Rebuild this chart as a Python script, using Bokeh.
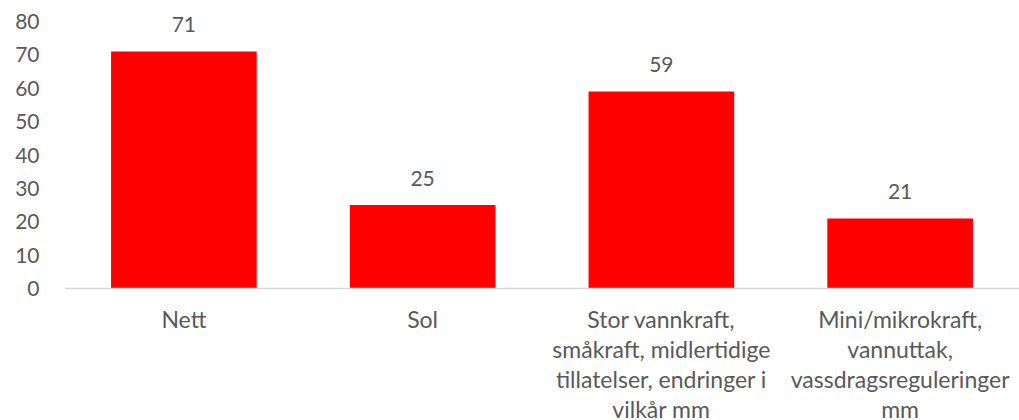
from bokeh.plotting import figure
from bokeh.models import ColumnDataSource, LabelSet, FactorRange, FixedTicker, Range1d, Span
from bokeh.core.properties import value
from bokeh.embed import file_html
from bokeh.resources import INLINE

categories = ["Nett", "Sol",
              "Stor vannkraft,\nsmåkraft, midlertidige\ntillatelser, endringer i\nvilkår mm",
              "Mini/mikrokraft,\nvannuttak,\nvassdragsreguleringer\nmm"]
values = [71, 25, 59, 21]
y_ticks = [0, 10, 20, 30, 40, 50, 60, 70, 80]

FONT = "Lato"
GRAY = "#595959"

src = ColumnDataSource(dict(cat=categories, val=values, lab=[str(v) for v in values]))

# category label lines, drawn under the baseline
line_cat, line_txt, line_off = [], [], []
for c in categories:
    for i, t in enumerate(c.split("\n")):
        line_cat.append(c)
        line_txt.append(t)
        line_off.append(-30 - 30 * i)
cat_src = ColumnDataSource(dict(cat=line_cat, txt=line_txt, off=line_off, y0=[0] * len(line_cat)))

p = figure(width=1019, height=420, x_range=FactorRange(*categories),
           y_range=Range1d(-39.55, 86.3),
           output_backend="svg", toolbar_location=None,
           min_border_left=64, min_border_right=0, min_border_top=0, min_border_bottom=0)
p.outline_line_color = None
p.grid.visible = False
p.background_fill_color = "white"

p.vbar(x="cat", top="val", width=0.61, source=src, color="#FF0000", line_color=None)

p.add_layout(Span(location=0, dimension="width", line_color="#D9D9D9", line_width=1.5))

labels = LabelSet(x="cat", y="val", text="lab", source=src, text_align="center",
                  text_baseline="middle", y_offset=27, text_color=GRAY,
                  text_font_size="21px", text_font=value(FONT))
p.add_layout(labels)

cat_labels = LabelSet(x="cat", y="y0", text="txt", source=cat_src, text_align="center",
                      text_baseline="middle", y_offset="off", text_color=GRAY,
                      text_font_size="23px", text_font=value(FONT))
p.add_layout(cat_labels)

p.yaxis.ticker = FixedTicker(ticks=y_ticks)
p.yaxis.axis_line_color = None
p.yaxis.major_tick_line_color = None
p.yaxis.minor_tick_line_color = None
p.yaxis.major_label_text_color = GRAY
p.yaxis.major_label_text_font_size = "21px"
p.yaxis.major_label_text_font = FONT
p.yaxis.major_label_standoff = 19

p.xaxis.visible = False

open("out.html", "w").write(file_html(p, INLINE))
